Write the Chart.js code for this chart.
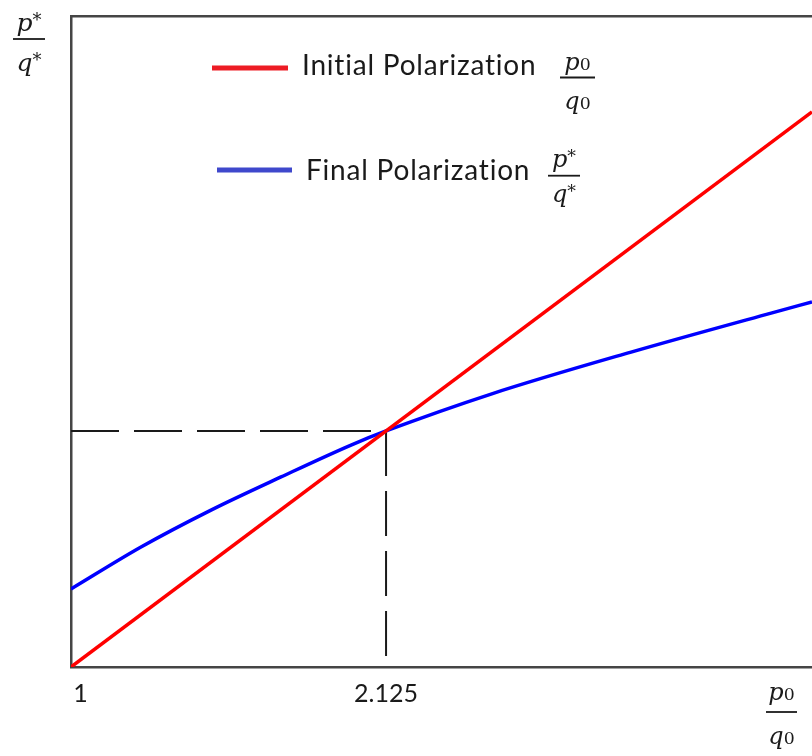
<!DOCTYPE html>
<html><head><meta charset="utf-8">
<script src="https://cdn.jsdelivr.net/npm/chart.js@4.4.1/dist/chart.umd.min.js"></script>
<style>html,body{margin:0;padding:0;background:#fff;overflow:hidden}</style>
</head><body>
<canvas id="c" width="812" height="756"></canvas>
<script>
// ---- data ----
const seriesLabels = ['Initial Polarization', 'Final Polarization'];
const initialX = [1, 3.646];
const initialY = [1, 3.646];
const finalX = [1, 1.25, 1.5, 1.75, 2, 2.125, 2.5, 3, 3.5, 3.646];
const finalY = [1.372, 1.572, 1.748, 1.906, 2.058, 2.125, 2.301, 2.501, 2.687, 2.740];
const xTicks = [1, 2.125];
const xTickLabels = ['1', '2.125'];
const crossX = 2.125;
const crossY = 2.125;
const xRange = [1, 3.646];
const yRange = [1, 4.103];

const toPts = (xs, ys) => xs.map((x, i) => ({x, y: ys[i]}));
const TXT = '#1a1a1a';
const UIFONT = 'Lato';
const MATH = '"DejaVu Serif"';

function term(ctx, letter, mark, kind, cx, baseline, size) {
  ctx.font = `italic ${size}px ${MATH}`;
  const wb = ctx.measureText(letter).width;
  const ms = size * 0.72;
  ctx.font = `${ms}px ${MATH}`;
  const wm = ctx.measureText(mark).width;
  const x = cx - (wb + wm) / 2;
  ctx.font = `italic ${size}px ${MATH}`;
  ctx.fillText(letter, x, baseline);
  ctx.font = `${ms}px ${MATH}`;
  ctx.fillText(mark, x + wb, kind === 'sub' ? baseline + size * 0.02 : baseline - size * 0.22);
}
function frac(ctx, x0, x1, barY, numBase, denBase, size, mark, kind) {
  ctx.save();
  ctx.fillStyle = TXT; ctx.strokeStyle = TXT; ctx.lineWidth = 1.8;
  ctx.textAlign = 'left'; ctx.textBaseline = 'alphabetic';
  ctx.beginPath(); ctx.moveTo(x0, barY); ctx.lineTo(x1, barY); ctx.stroke();
  const cx = (x0 + x1) / 2;
  term(ctx, 'p', mark, kind, cx, numBase, size);
  term(ctx, 'q', mark, kind, cx, denBase, size);
  ctx.restore();
}

const overlay = {
  id: 'overlay',
  afterDraw(chart) {
    const ctx = chart.ctx;
    const ds = chart.data.datasets;
    const rows = [
      {l0: 212, l1: 288, ly: 68, tx: 302, tb: 75, color: '#ED1C24', label: ds[0].label,
       f: [560, 595, 77.5, 70, 108.5, '0', 'sub']},
      {l0: 217, l1: 292, ly: 170, tx: 306, tb: 180, color: '#3F48CC', label: ds[1].label,
       f: [548, 580, 175.7, 167, 202, '*', 'sup']}
    ];
    rows.forEach(r => {
      ctx.save();
      ctx.strokeStyle = r.color; ctx.lineWidth = 5;
      ctx.beginPath(); ctx.moveTo(r.l0, r.ly); ctx.lineTo(r.l1, r.ly); ctx.stroke();
      ctx.fillStyle = TXT; ctx.font = `28px ${UIFONT}`;
      ctx.letterSpacing = '0.8px';
      ctx.textAlign = 'left'; ctx.textBaseline = 'alphabetic';
      ctx.fillText(r.label, r.tx, r.tb);
      ctx.restore();
      frac(ctx, r.f[0], r.f[1], r.f[2], r.f[3], r.f[4], 24, r.f[5], r.f[6]);
    });
    frac(ctx, 13, 45, 39, 31, 71, 25, '*', 'sup');
    frac(ctx, 766, 797, 712, 700, 744, 24, '0', 'sub');
  }
};

new Chart(document.getElementById('c'), {
  type: 'line',
  data: {
    datasets: [
      {label: seriesLabels[0], data: toPts(initialX, initialY), borderColor: '#ff0000', borderWidth: 3.5,
       pointRadius: 0, order: 1, tension: 0},
      {label: seriesLabels[1], data: toPts(finalX, finalY), borderColor: '#0000ff', borderWidth: 3.5,
       pointRadius: 0, order: 1, cubicInterpolationMode: 'monotone'},
      {label: 'h', data: [{x: xRange[0], y: crossY}, {x: crossX, y: crossY}], borderColor: '#1a1a1a',
       borderWidth: 2, borderDash: [48, 15], pointRadius: 0, order: 2},
      {label: 'v', data: [{x: crossX, y: crossY}, {x: crossX, y: yRange[0]}], borderColor: '#1a1a1a',
       borderWidth: 2, borderDash: [45, 15], pointRadius: 0, order: 2}
    ]
  },
  options: {
    responsive: false,
    animation: false,
    devicePixelRatio: 1,
    layout: {padding: 0},
    plugins: {legend: {display: false}, tooltip: {enabled: false}},
    scales: {
      x: {
        type: 'linear', position: 'bottom', min: xRange[0], max: xRange[1],
        grid: {display: false, drawTicks: false},
        border: {display: true, color: '#454545', width: 2.5},
        afterBuildTicks: s => { s.ticks = xTicks.map(v => ({value: v})); },
        afterFit: s => { s.height = 89; },
        ticks: {
          autoSkip: false, maxRotation: 0, padding: 12, color: TXT,
          font: {family: UIFONT, size: 25},
          callback: (v, i) => (i === 0 ? '   ' : '') + xTickLabels[i]
        }
      },
      x2: {
        type: 'linear', position: 'top', min: xRange[0], max: xRange[1],
        grid: {display: false, drawTicks: false},
        border: {display: true, color: '#454545', width: 2.5},
        ticks: {display: false},
        afterFit: s => { s.height = 16; }
      },
      y: {
        type: 'linear', position: 'left', min: yRange[0], max: yRange[1],
        grid: {display: false, drawTicks: false},
        border: {display: true, color: '#454545', width: 2.5},
        ticks: {display: false},
        afterFit: s => { s.width = 71; }
      }
    }
  },
  plugins: [overlay]
});
</script>
</body></html>
